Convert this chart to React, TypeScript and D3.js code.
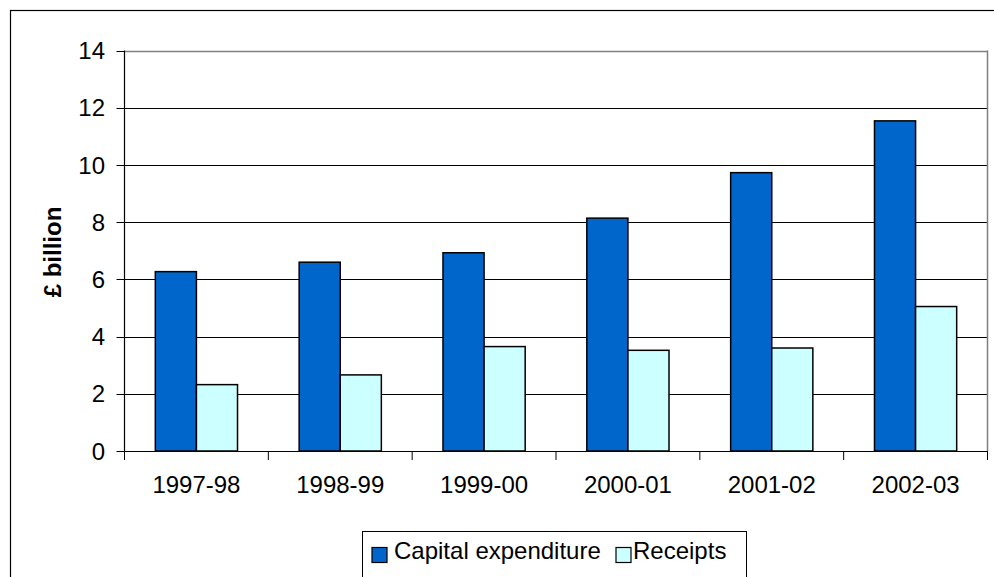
import * as d3 from "d3";

const categories = ["1997-98", "1998-99", "1999-00", "2000-01", "2001-02", "2002-03"];
const capitalExpenditure = [6.27, 6.6, 6.93, 8.14, 9.73, 11.54];
const receipts = [2.32, 2.66, 3.65, 3.52, 3.6, 5.05];
const yTicks = [0, 2, 4, 6, 8, 10, 12, 14];
const seriesNames = ["Capital expenditure", "Receipts"];

const W = 994;
const H = 577;
const FONT = "Liberation Sans, Arial, sans-serif";
const FS = 24;

const App = () => {
  // plot area
  const left = 124.5;
  const right = 987.5;
  const top = 50.5;
  const bottom = 451;

  const x = d3.scaleBand().domain(categories).range([left, right]).padding(0);
  const y = d3.scaleLinear().domain([0, 14]).range([bottom, top]);

  // Excel-style gap width 150%
  const barW = x.bandwidth() / 3.5;
  const gap = (x.bandwidth() - 2 * barW) / 2;

  const series = [
    { name: seriesNames[0], values: capitalExpenditure, color: "#0066CC" },
    { name: seriesNames[1], values: receipts, color: "#CCFFFF" },
  ];

  const edges = [...categories.map((c) => x(c)!), right];

  return (
    <svg
      width={W}
      height={H}
      style={{ position: "absolute", left: 0, top: 0, background: "#fff" }}
      fontFamily={FONT}
    >
      {/* outer chart border */}
      <rect x={10.5} y={10.5} width={1000} height={1000} fill="white" stroke="#000" strokeWidth={1.2} />

      {/* grid lines */}
      {yTicks.map((t) => (
        <line
          key={"g" + t}
          x1={left}
          x2={right}
          y1={Math.round(y(t)) + 0.5}
          y2={Math.round(y(t)) + 0.5}
          stroke={t === 14 ? "#808080" : "#000"}
          strokeWidth={t === 14 ? 1.5 : 1}
        />
      ))}
      {/* right border of plot */}
      <line x1={right} x2={right} y1={top} y2={bottom} stroke="#808080" strokeWidth={1.5} />

      {/* bars */}
      {series.map((s, si) => (
        <g key={s.name} fill={s.color} stroke="#000" strokeWidth={1.5}>
          {s.values.map((v, i) => (
            <rect
              key={i}
              x={x(categories[i])! + gap + si * barW}
              y={y(v)}
              width={barW}
              height={y(0) - y(v)}
            />
          ))}
        </g>
      ))}

      {/* y axis */}
      <line x1={left} x2={left} y1={top} y2={bottom} stroke="#000" strokeWidth={1.2} />
      {yTicks.map((t) => (
        <g key={"t" + t}>
          <line x1={left - 8} x2={left} y1={Math.round(y(t)) + 0.5} y2={Math.round(y(t)) + 0.5} stroke="#000" />
          <text x={105} y={y(t)} dy="0.36em" textAnchor="end" fontSize={FS} fill="#000">
            {t}
          </text>
        </g>
      ))}

      {/* x axis */}
      <line x1={left} x2={right} y1={bottom + 0.5} y2={bottom + 0.5} stroke="#000" strokeWidth={1.2} />
      {edges.map((e, i) => (
        <line key={"xt" + i} x1={e} x2={e} y1={bottom} y2={bottom + 9} stroke="#000" />
      ))}
      {categories.map((c) => (
        <text key={c} x={x(c)! + x.bandwidth() / 2} y={493} textAnchor="middle" fontSize={FS} fill="#000">
          {c}
        </text>
      ))}

      {/* y label */}
      <text
        transform={`translate(61,252) rotate(-90)`}
        textAnchor="middle"
        fontSize={FS}
        fontWeight="bold"
        fill="#000"
      >
        £ billion
      </text>

      {/* legend */}
      <rect x={362.5} y={531.5} width={384} height={80} fill="white" stroke="#000" strokeWidth={1} />
      <rect x={372} y={547.5} width={15} height={15} fill={series[0].color} stroke="#000" strokeWidth={1.2} />
      <text x={394} y={559} fontSize={FS} fill="#000">
        {seriesNames[0]}
      </text>
      <rect x={616} y={547.5} width={15} height={15} fill={series[1].color} stroke="#000" strokeWidth={1.2} />
      <text x={633} y={559} fontSize={FS} fill="#000">
        {seriesNames[1]}
      </text>
    </svg>
  );
};

export default App;
